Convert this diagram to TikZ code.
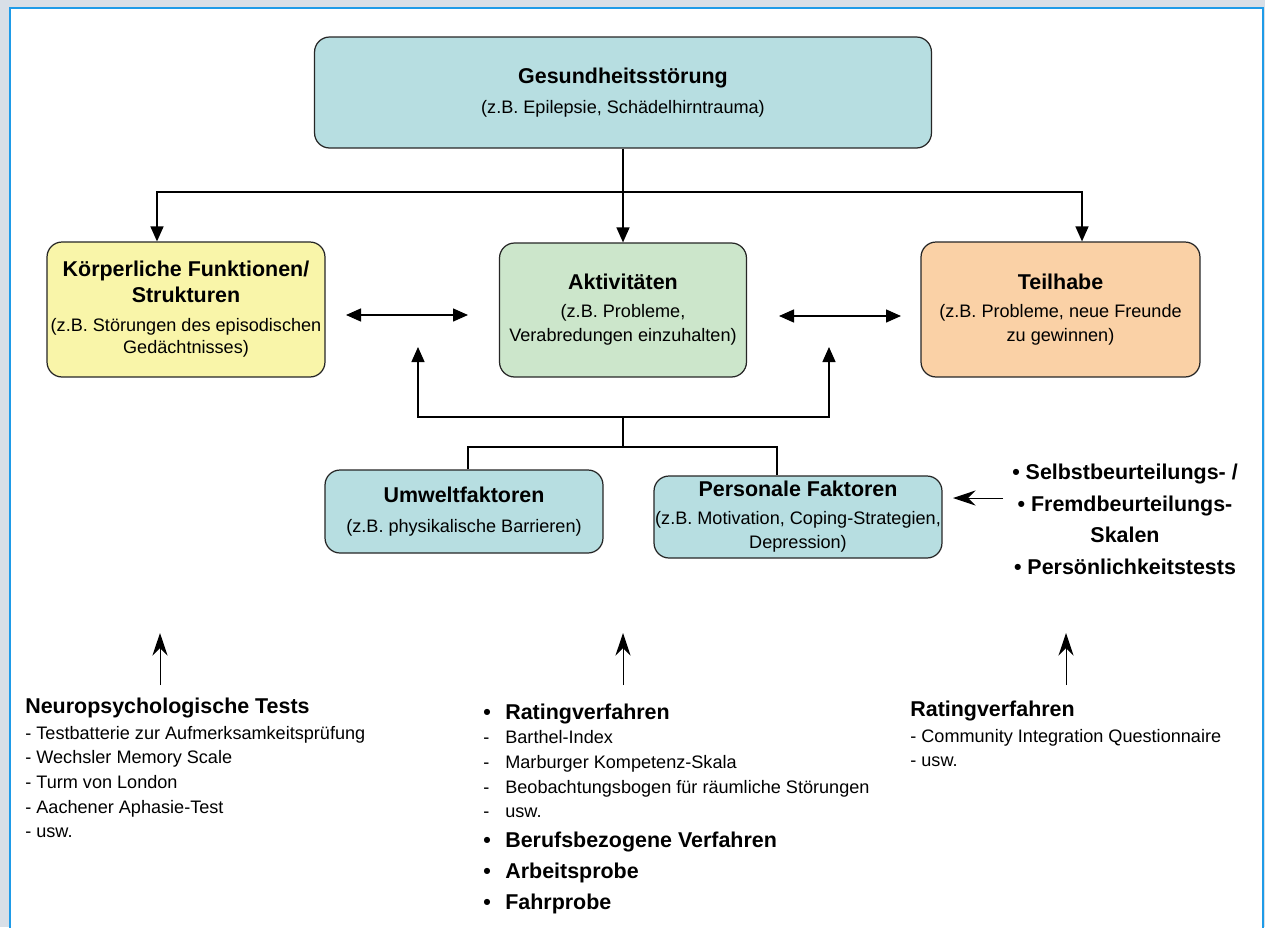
\documentclass[tikz,border=0pt]{standalone}
\usepackage{fontspec}
\setmainfont{Liberation Sans}
\usetikzlibrary{arrows.meta}

\definecolor{framebg}{HTML}{D8DFE7}
\definecolor{frameline}{HTML}{1E9BE8}
\definecolor{tealbox}{HTML}{B7DEE1}
\definecolor{yellowbox}{HTML}{F9F5A9}
\definecolor{greenbox}{HTML}{CCE6CB}
\definecolor{peachbox}{HTML}{FAD1A6}

\newcommand\hdfont{\fontsize{12.2}{14.8}\selectfont\bfseries}
\newcommand\boxfont{\fontsize{10.3}{12.6}\selectfont}
\newcommand\lstfont{\fontsize{10.3}{14}\selectfont}
\newcommand\mk[1]{\makebox[0.44cm][l]{#1}}

\tikzset{
  icfbox/.style={draw=black!85, line width=0.7pt, rounded corners=0.3cm,
    align=center, inner sep=0pt, font=\boxfont},
  arr/.style={line width=0.8pt, -{Triangle[length=0.3cm,width=0.26cm]}},
  darr/.style={line width=0.8pt,
    {Triangle[length=0.3cm,width=0.26cm]}-{Triangle[length=0.3cm,width=0.26cm]}},
  tarr/.style={line width=0.55pt, -{Stealth[length=0.45cm,width=0.3cm,inset=0.15cm]}},
  link/.style={line width=0.8pt},
  lst/.style={align=left, inner sep=0pt, font=\lstfont, anchor=north west},
}

\begin{document}
\begin{tikzpicture}[x=0.02cm,y=-0.02cm]
\useasboundingbox (0,0) rectangle (1265,927);
% frame
\fill[framebg] (0,0) rectangle (1265,927);
\filldraw[fill=white,draw=frameline,line width=0.6pt] (10,940) -- (10,8) -- (1263,8) -- (1263,940);

% ICF boxes
\node[icfbox,fill=tealbox,minimum width=12.34cm,minimum height=2.22cm] (gesund) at (623,92.5)
  {{\hdfont Gesundheitsstörung}\\[4.4pt](z.B. Epilepsie, Schädelhirntrauma)};
\node[icfbox,fill=yellowbox,minimum width=5.56cm,minimum height=2.7cm] (koerper) at (186,309.5)
  {{\hdfont Körperliche Funktionen/}\\[2.2pt]{\hdfont Strukturen}\\[3.9pt](z.B. Störungen des episodischen\\Gedächtnisses)};
\node[icfbox,fill=greenbox,minimum width=4.94cm,minimum height=2.68cm] (aktiv) at (623,310)
  {{\hdfont Aktivitäten}\\[3.3pt](z.B. Probleme,\\[1pt]Verabredungen einzuhalten)};
\node[icfbox,fill=peachbox,minimum width=5.58cm,minimum height=2.7cm] (teil) at (1060.5,309.5)
  {{\hdfont Teilhabe}\\[3.3pt](z.B. Probleme, neue Freunde\\[1pt]zu gewinnen)};
\node[icfbox,fill=tealbox,minimum width=5.56cm,minimum height=1.66cm] (umwelt) at (464,511.5)
  {{\hdfont Umweltfaktoren}\\[4.4pt](z.B. physikalische Barrieren)};
\node[icfbox,fill=tealbox,minimum width=5.76cm,minimum height=1.64cm] (personal) at (798,517)
  {{\hdfont Personale Faktoren}\\[3.3pt](z.B. Motivation, Coping-Strategien,\\[1pt]Depression)};

% connectors
\coordinate (topsplit) at (623,192);
\coordinate (kin) at (157,0);
\coordinate (tin) at (1082,0);
\draw[arr] (gesund) -- (aktiv);
\draw[arr] (topsplit) -| (koerper.north -| kin);
\draw[arr] (topsplit) -| (teil.north -| tin);

\coordinate (dl1) at (346,315);
\coordinate (dl2) at (468,315);
\coordinate (dr1) at (779,316);
\coordinate (dr2) at (901,316);
\draw[darr] (dl1) -- (dl2);
\draw[darr] (dr1) -- (dr2);

\coordinate (midsplit) at (623,417);
\coordinate (lowsplit) at (623,447);
\coordinate (aL) at (418,347);
\coordinate (aR) at (829,347);
\coordinate (uin) at (468,0);
\coordinate (pin) at (777,0);
\draw[link] (umwelt.north -| uin) |- (lowsplit) -| (personal.north -| pin);
\draw[link] (lowsplit) -- (midsplit);
\draw[arr] (midsplit) -| (aL);
\draw[arr] (midsplit) -| (aR);

% assessment lists
\node[align=center, inner sep=0pt, font=\fontsize{12.2}{18}\selectfont\bfseries, anchor=north] (skalen) at (1125,463.5)
  {• Selbstbeurteilungs- /\\• Fremdbeurteilungs-\\Skalen\\• Persönlichkeitstests};
\coordinate (sk) at (1003,498);
\coordinate (pf) at (953,498);
\draw[tarr] (sk) -- (pf);

\node[lst] (neuro) at (25,697.5)
  {{\hdfont Neuropsychologische Tests}\\[0.8pt]- Testbatterie zur Aufmerksamkeitsprüfung\\- Wechsler Memory Scale\\- Turm von London\\- Aachener Aphasie-Test\\- usw.};
\node[lst] (rating) at (483,703.5)
  {{\hdfont \mk{•}Ratingverfahren}\\\mk{-}Barthel-Index\\\mk{-}Marburger Kompetenz-Skala\\\mk{-}Beobachtungsbogen für räumliche Störungen\\\mk{-}usw.\\[3.1pt]{\hdfont \mk{•}Berufsbezogene Verfahren}\\[3.3pt]{\hdfont \mk{•}Arbeitsprobe}\\[4pt]{\hdfont \mk{•}Fahrprobe}};
\node[lst] (partiz) at (910,700.5)
  {{\hdfont Ratingverfahren}\\[0.8pt]- Community Integration Questionnaire\\- usw.};

\coordinate (n1) at (160,685);
\coordinate (n2) at (160,633);
\coordinate (r1) at (623,685);
\coordinate (r2) at (623,633);
\coordinate (p1) at (1066,685);
\coordinate (p2) at (1066,633);
\draw[tarr] (n1) -- (n2);
\draw[tarr] (r1) -- (r2);
\draw[tarr] (p1) -- (p2);
\end{tikzpicture}
\end{document}
